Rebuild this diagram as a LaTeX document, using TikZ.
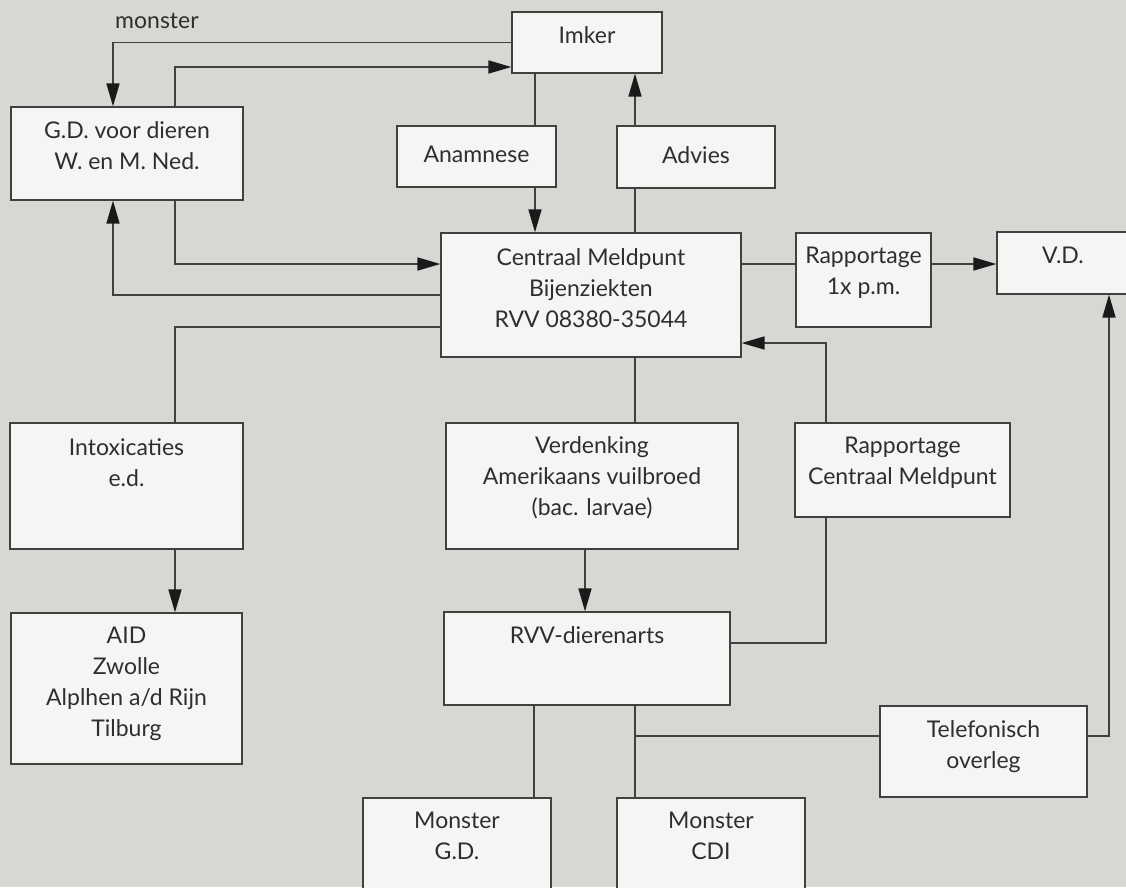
\documentclass[tikz,border=0pt]{standalone}
\usepackage{fontspec}
\setmainfont{Lato}
\usetikzlibrary{arrows.meta}
\definecolor{bgc}{HTML}{D7D8D4}
\definecolor{boxc}{HTML}{F5F5F3}
\definecolor{linec}{HTML}{404040}
\definecolor{tipc}{HTML}{1A1A1A}
\definecolor{textc}{HTML}{2E2E2E}
\tikzset{
  boxs/.style={draw=linec, line width=1.2pt, fill=boxc, rectangle, inner sep=0pt},
  txt/.style={inner sep=0pt, align=center, text=textc, font=\fontsize{23}{31}\selectfont},
  conn/.style={draw=linec, line width=1.6pt},
  arr/.style={conn, -{Triangle[length=23pt,width=13pt,color=tipc]}}
}
\newcommand\mybox[7]{%
  \node[boxs, minimum width={#4pt-#2pt}, minimum height={#5pt-#3pt}] (#1) at ({(#2+#4)/2},{(#3+#5)/2}) {};
  \node[txt, anchor=north] (#1t) at ({(#2+#4)/2},{#3+#6-21.7}) {\strut #7};
}
\begin{document}
\begin{tikzpicture}[x=1pt,y=-1pt]
\useasboundingbox (0,0) rectangle (1126,887);
\clip (0,0) rectangle (1126,887);
\fill[bgc] (0,0) rectangle (1126,887);

% boxes
\mybox{imker}{512}{12}{662}{73}{31}{Imker}
\mybox{gd}{11}{107}{243}{200}{31}{G.D. voor dieren\\W. en M. Ned.}
\mybox{anam}{397}{126}{556}{187}{36}{Anamnese}
\mybox{advies}{617}{126}{775}{188}{37}{Advies}
\mybox{ctr}{441}{233}{741}{357}{32}{Centraal Meldpunt\\Bijenziekten\\RVV 08380-35044}
\mybox{rap}{796}{233}{931}{327}{30}{Rapportage\\1x p.m.}
\mybox{vd}{997}{232}{1129}{294}{31}{V.D.}
\mybox{intox}{10}{423}{243}{549}{32}{Intoxicaties\\e.d.}
\mybox{verd}{446}{423}{738}{549}{30}{Verdenking\\Amerikaans vuilbroed\\(bac. larvae)}
\mybox{rapcm}{795}{423}{1010}{517}{30}{Rapportage\\Centraal Meldpunt}
\mybox{aid}{11}{613}{242}{764}{30}{AID\\Zwolle\\Alplhen a/d Rijn\\Tilburg}
\mybox{rvv}{444}{612}{730}{705}{31}{RVV-dierenarts}
\mybox{tel}{880}{706}{1087}{797}{31}{Telefonisch\\overleg}
\mybox{mgd}{363}{798}{551}{905}{30}{Monster\\G.D.}
\mybox{mcdi}{617}{798}{805}{905}{30}{Monster\\CDI}

\node[txt, anchor=base west] (monsterlbl) at (115,28) {monster};

% helper coordinates for line positions
\coordinate (xa) at (113,0);
\coordinate (xb) at (175,0);
\coordinate (xc) at (535,0);
\coordinate (xe) at (635,0);
\coordinate (xf) at (585,0);
\coordinate (xg) at (534,0);
\coordinate (xd) at (826,0);
\coordinate (xh) at (1109,0);
\coordinate (y67) at (0,67);
\coordinate (y264) at (0,264);
\coordinate (y327) at (0,327);
\coordinate (y343) at (0,343);
\coordinate (y643) at (0,643);
\coordinate (y736) at (0,736);
\coordinate (j) at (635,736);

% connectors
\draw[arr] (imker.west) -| (gd.north -| xa);
\draw[arr] (gd.north -| xb) |- (imker.west |- y67);
\draw[arr] (gd.south -| xb) |- (ctr.west |- y264);
\draw[arr] (ctr.west) -| (gd.south -| xa);
\draw[conn] (ctr.west |- y327) -| (intox.north -| xb);
\draw[arr] (intox.south -| xb) -- (aid.north -| xb);
\draw[conn] (imker.south -| xc) -- (anam.north -| xc);
\draw[arr] (anam.south -| xc) -- (ctr.north -| xc);
\draw[conn] (ctr.north -| xe) -- (advies.south -| xe);
\draw[arr] (advies.north -| xe) -- (imker.south -| xe);
\draw[conn] (ctr.east |- y264) -- (rap.west |- y264);
\draw[arr] (rap.east |- y264) -- (vd.west |- y264);
\draw[arr] (rapcm.north -| xd) |- (ctr.east |- y343);
\draw[conn] (rapcm.south -| xd) |- (rvv.east |- y643);
\draw[conn] (ctr.south -| xe) -- (verd.north -| xe);
\draw[arr] (verd.south -| xf) -- (rvv.north -| xf);
\draw[conn] (rvv.south -| xg) -- (mgd.north -| xg);
\draw[conn] (rvv.south -| xe) -- (mcdi.north -| xe);
\draw[conn] (j) -- (tel.west |- y736);
\draw[arr] (tel.east |- y736) -| (vd.south -| xh);
\end{tikzpicture}
\end{document}
